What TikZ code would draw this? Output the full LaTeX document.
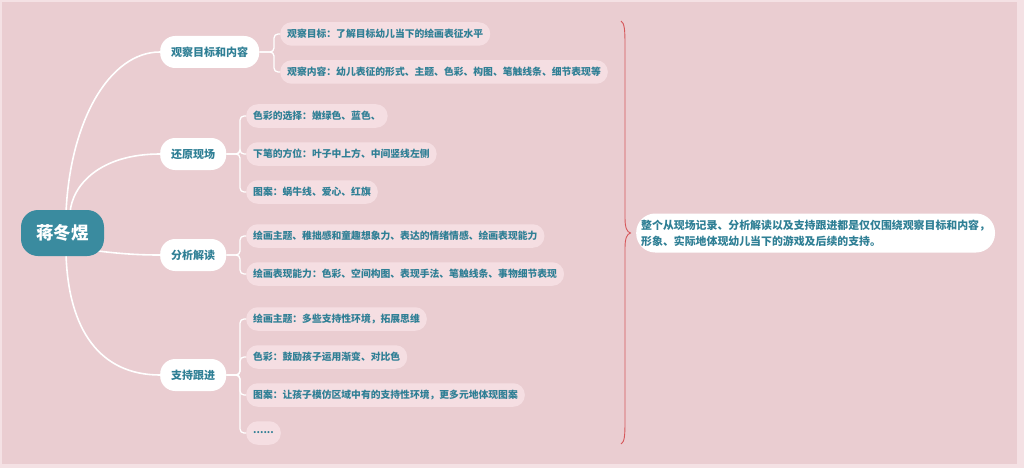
\documentclass[tikz,border=0pt]{standalone}
\usepackage{fontspec}
\setmainfont{Noto Sans CJK SC}
\usetikzlibrary{calc}
\definecolor{bgpink}{HTML}{EACDD1}
\definecolor{framepink}{HTML}{F4E1E4}
\definecolor{leafpink}{HTML}{F5DEE2}
\definecolor{tealtext}{HTML}{2F7F95}
\definecolor{tealroot}{HTML}{3A8B9F}
\definecolor{bracered}{HTML}{D6575A}
\tikzset{
  rootbox/.style={fill=tealroot, text=white, font=\bfseries\fontsize{17.5}{19}\selectfont,
    rounded corners=17pt, minimum width=83pt, minimum height=46pt, inner sep=0pt},
  lonebox/.style={fill=white, text=tealtext, font=\bfseries\fontsize{11}{13}\selectfont,
    rounded corners=15pt, minimum height=32pt, inner xsep=11pt, inner ysep=0pt},
  leafbox/.style={fill=leafpink, text=tealtext, font=\bfseries\fontsize{9.8}{11}\selectfont,
    rounded corners=11.5pt, minimum height=23.5pt, inner xsep=7pt, inner ysep=0pt},
  summbox/.style={fill=white, text=tealtext, font=\bfseries\fontsize{10.9}{16}\selectfont,
    rounded corners=19pt, minimum height=39pt, inner xsep=5pt, inner ysep=3pt, align=left},
  rootline/.style={draw=white, line width=1.6pt},
  leafline/.style={draw=white, line width=1.3pt, rounded corners=4pt},
  bracepath/.style={draw=bracered, line width=0.9pt},
}
\begin{document}
\begin{tikzpicture}[x=1pt,y=-1pt]
\useasboundingbox (0,0) rectangle (1024,468);
\fill[framepink] (0,0) rectangle (1024,468);
\fill[bgpink] (2,2) rectangle (1017,464);

% level 1 nodes
\node[lonebox, anchor=west] (a) at (160,52) {观察目标和内容};
\node[lonebox, anchor=west] (b) at (160,154) {还原现场};
\node[lonebox, anchor=west] (c) at (160,255) {分析解读};
\node[lonebox, anchor=west] (d) at (160,375) {支持跟进};

% root position and curves
\coordinate (rc) at (62.5,233);
\draw[rootline] ($(rc)+(3.5,-20)$) .. controls (70,120) and (110,52) .. (a.west);
\draw[rootline] ($(rc)+(7.5,-20)$) .. controls (72,185) and (100,154) .. (b.west);
\draw[rootline] ($(rc)+(28,17)$) .. controls (120,254) and (140,255) .. (c.west);
\draw[rootline] ($(rc)+(3.5,20)$) .. controls (68,330) and (100,375) .. (d.west);
\node[rootbox] (r) at (rc) {蒋冬煜};

% leaves
\node[leafbox, anchor=west] (a1) at (280,34) {观察目标：了解目标幼儿当下的绘画表征水平};
\node[leafbox, anchor=west] (a2) at (280,72) {观察内容：幼儿表征的形式、主题、色彩、构图、笔触线条、细节表现等};
\node[leafbox, anchor=west] (b1) at (246,116) {色彩的选择：嫩绿色、蓝色、};
\node[leafbox, anchor=west] (b2) at (246,154) {下笔的方位：叶子中上方、中间竖线左侧};
\node[leafbox, anchor=west] (b3) at (246,192) {图案：蜗牛线、爱心、红旗};
\node[leafbox, anchor=west] (c1) at (246,236) {绘画主题、稚拙感和童趣想象力、表达的情绪情感、绘画表现能力};
\node[leafbox, anchor=west] (c2) at (246,274) {绘画表现能力：色彩、空间构图、表现手法、笔触线条、事物细节表现};
\node[leafbox, anchor=west] (d1) at (246,319) {绘画主题：多些支持性环境，拓展思维};
\node[leafbox, anchor=west] (d2) at (246,357) {色彩：鼓励孩子运用渐变、对比色};
\node[leafbox, anchor=west] (d3) at (246,395) {图案：让孩子模仿区域中有的支持性环境，更多元地体现图案};
\node[leafbox, anchor=west] (d4) at (246,433) {......};

\foreach \p/\q in {a/a1,a/a2,b/b1,b/b2,b/b3,c/c1,c/c2,d/d1,d/d2,d/d3,d/d4}{
  \draw[leafline] (\p.east) -| ([xshift=-6pt]\q.west) -- (\q.west);
}

% summary and brace
\node[summbox, anchor=west] (s) at (636,233) {整个从现场记录、分析解读以及支持跟进都是仅仅围绕观察目标和内容，\\形象、实际地体现幼儿当下的游戏及后续的支持。};
\coordinate (tip) at (630.5,233);
\draw[bracepath] (621,21) .. controls (624.5,23) and (625,30) .. (625,45) -- (625,218)
  .. controls (625,228) and (627,232) .. (tip)
  .. controls (627,234) and (625,238) .. (625,248) -- (625,421)
  .. controls (625,436) and (624.5,442) .. (621,444);
\end{tikzpicture}
\end{document}
